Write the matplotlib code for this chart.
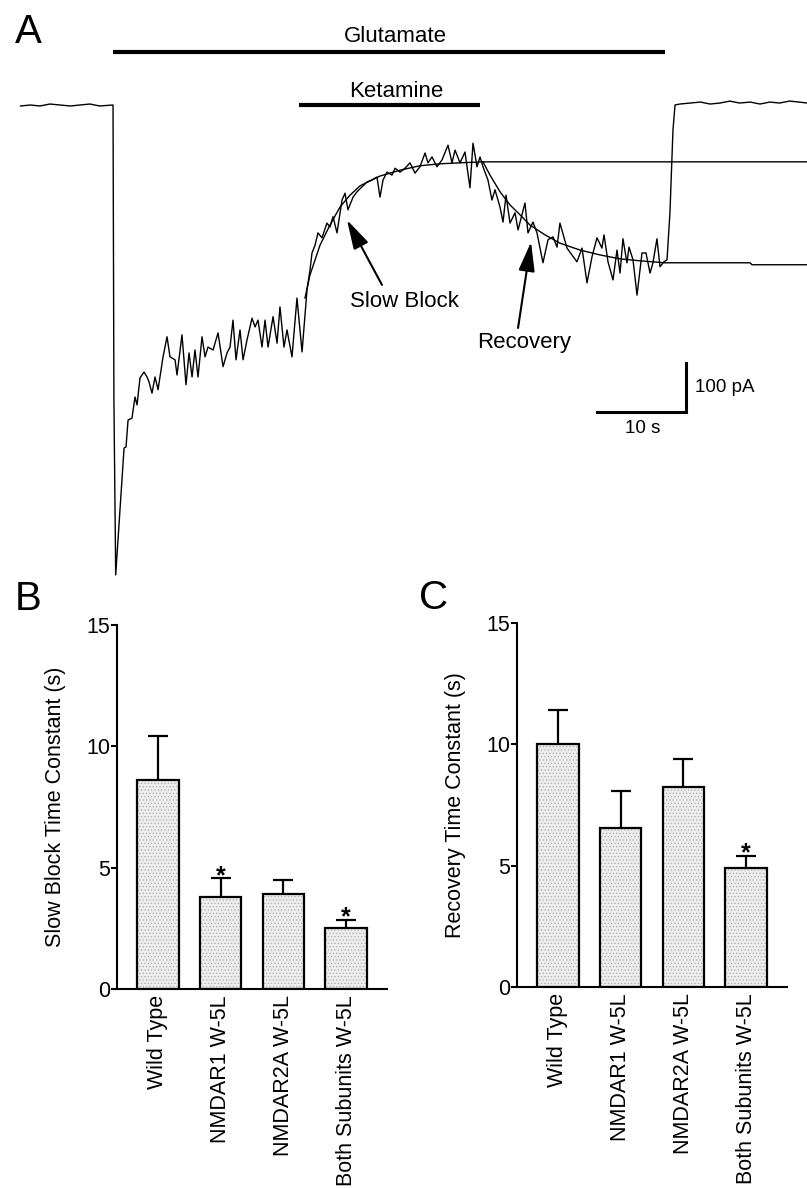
import numpy as np
import matplotlib
matplotlib.use('Agg')
import matplotlib.pyplot as plt

plt.rcParams['font.family'] = ['Liberation Sans', 'DejaVu Sans']

# ---- panel A: whole-cell current trace (time in s from glutamate onset, current in pA)
trace_t = [-10.4, -9.3, -8.2, -7.1, -6.0, -4.8, -3.7, -2.6, -1.5, -0.1,
           0.0, 0.1, 0.3,
           1.24, 1.46, 1.69, 2.13, 2.47, 2.70, 3.03, 3.48, 3.82, 4.04, 4.38, 4.72, 5.06,
           5.62, 6.07, 6.40, 6.97, 7.19, 7.75, 8.20, 8.54, 8.88, 9.21, 9.55, 10.0, 10.34,
           10.67, 11.24, 11.80, 12.36, 12.81, 13.15, 13.48, 13.82, 14.27, 14.61, 15.06,
           15.62, 15.96, 16.29, 16.74, 17.08, 17.42, 17.98, 18.43, 18.76, 19.21, 19.55,
           20.11, 20.67, 21.24, 21.80, 22.13, 22.36, 22.70, 23.03, 23.48, 24.04, 24.38,
           24.72, 25.17, 25.73, 26.07, 26.40, 26.97, 27.42, 27.98, 28.54, 29.10, 29.66,
           30.00, 30.34, 30.79, 31.35, 31.69, 32.25, 32.81, 33.37, 33.93, 34.49, 35.06,
           35.39, 35.84, 36.40, 36.97, 37.64, 38.09, 38.43, 38.99, 39.55, 40.11, 40.45,
           40.90, 41.24, 41.57, 42.13, 42.58, 42.92, 43.48, 43.82, 44.16, 44.61, 45.17,
           45.51, 46.29, 46.63, 47.19, 47.64, 48.31, 48.88, 49.44, 49.89, 50.22, 51.01,
           52.13, 52.70, 53.26, 53.82, 54.38, 54.94, 55.17, 55.62, 56.18, 56.63, 56.97,
           57.30, 57.75, 57.98, 58.43, 58.88, 59.44, 59.89, 60.34, 60.67, 61.12, 61.46,
           61.91, 62.25, 62.58, 62.92, 63.15,
           63.7, 64.8, 66.0, 67.1, 68.2, 69.3, 70.4, 71.6, 72.7, 73.8, 74.9, 76.0, 77.1, 78.0]
trace_pA = [-2, 0, -2, 2, 0, -2, 0, 2, -2, 0,
            0, -602, -959,
            -700, -698, -643, -639, -596, -612, -557, -545, -555, -565, -588, -555, -581,
            -514, -473, -514, -520, -551, -469, -571, -506, -555, -500, -555, -473, -514,
            -494, -500, -465, -534, -506, -494, -439, -520, -459, -520, -479,
            -435, -453, -439, -494, -439, -494, -432, -486, -412, -494, -459,
            -514, -394, -504, -377, -337, -302, -286, -261, -271, -241, -249,
            -228, -261, -194, -180, -214, -188, -177, -167, -157, -153, -147,
            -188, -153, -137, -143, -129, -137, -129, -118, -139, -126, -98,
            -118, -106, -126, -112, -82, -118, -92, -118, -96, -169, -78,
            -126, -106, -126, -153, -194, -173, -208, -239, -184, -241, -220,
            -255, -200, -261, -239, -261, -322, -275, -269, -290, -241, -292,
            -320, -292, -363, -310, -271, -292, -265, -320, -357, -296, -343,
            -273, -322, -290, -316, -388, -302, -302, -343, -322, -273, -330,
            -320, -316, -220, -51, 0,
            2, 4, 6, 2, 4, 8, 4, 6, 2, 6, 4, 8, 6, 4]

# exponential fits drawn over the trace (and their extrapolations)
block_fit_t = [21.57, 22.13, 23.26, 24.38, 25.51, 26.63, 27.75, 30.0, 32.25, 34.49,
               36.74, 38.99, 41.57, 78.0]
block_fit_pA = [-394, -347, -286, -245, -208, -184, -165, -145, -133, -124,
                -120, -118, -116, -116]
recov_fit_t = [41.57, 42.36, 43.48, 44.61, 45.73, 46.85, 48.54, 50.22, 52.47, 54.72,
               56.97, 59.21, 62.02, 71.57, 71.8, 78.0]
recov_fit_pA = [-116, -143, -177, -204, -224, -245, -265, -282, -296, -306,
                -314, -318, -322, -322, -326, -326]

glutamate_on, glutamate_off = 0.0, 62.0
ketamine_on, ketamine_off = 20.9, 41.2

# ---- panels B and C
categories = ['Wild Type', 'NMDAR1 W-5L', 'NMDAR2A W-5L', 'Both Subunits W-5L']
block_tau = [8.6, 3.8, 3.9, 2.5]
block_sem = [1.8, 0.75, 0.6, 0.35]
block_sig = [False, True, False, True]
recov_tau = [10.0, 6.55, 8.25, 4.9]
recov_sem = [1.4, 1.5, 1.15, 0.5]
recov_sig = [False, False, False, True]

W, H = 807, 1188
fig = plt.figure(figsize=(W / 100, H / 100), dpi=100)


def px_axes(x0, y0, x1, y1):
    return fig.add_axes([x0 / W, 1 - y1 / H, (x1 - x0) / W, (y1 - y0) / H])


# ---------------- A
axA = px_axes(0, 0, W, 580)
axA.set_xlim(-12.70, 77.98)
axA.set_ylim(-969.4, 214.3)
axA.axis('off')

axA.plot(trace_t, trace_pA, color='k', lw=1.0)
axA.plot(block_fit_t, block_fit_pA, color='k', lw=1.0)
axA.plot(recov_fit_t, recov_fit_pA, color='k', lw=1.0)

axA.plot([glutamate_on, glutamate_off], [108, 108], color='k', lw=3, solid_capstyle='butt')
axA.plot([ketamine_on, ketamine_off], [0, 0], color='k', lw=3, solid_capstyle='butt')
axA.text((glutamate_on + glutamate_off) / 2 + 0.7, 128.6, 'Glutamate', ha='center',
         va='baseline', fontsize=16)
axA.text((ketamine_on + ketamine_off) / 2 + 0.8, 16.3, 'Ketamine', ha='center',
         va='baseline', fontsize=16)

arrow = dict(arrowstyle='-|>,head_length=0.9,head_width=0.25', color='k', lw=1.5,
             mutation_scale=20, shrinkA=0, shrinkB=0)
axA.annotate('', xy=(26.29, -234.7), xytext=(30.22, -367), arrowprops=arrow)
axA.text(32.8, -412, 'Slow Block', ha='center', va='baseline', fontsize=16)
axA.annotate('', xy=(46.97, -279.6), xytext=(45.51, -455), arrowprops=arrow)
axA.text(46.24, -496, 'Recovery', ha='center', va='baseline', fontsize=16)

# scale bar: 10 s x 100 pA
axA.plot([54.4, 64.4, 64.4], [-626.5, -626.5, -526.5], color='k', lw=2.2,
         solid_joinstyle='miter')
axA.text(65.39, -585.7, '100 pA', ha='left', va='baseline', fontsize=13.5)
axA.text(59.55, -669.4, '10 s', ha='center', va='baseline', fontsize=13.5)

fig.text(15 / W, 1 - 43 / H, 'A', fontsize=29, va='baseline', ha='left')
fig.text(15 / W, 1 - 610 / H, 'B', fontsize=29, va='baseline', ha='left')
fig.text(419 / W, 1 - 609 / H, 'C', fontsize=29, va='baseline', ha='left')


# ---------------- B, C
def bar_panel(ax, vals, sems, sig, ylabel):
    x = np.arange(len(categories))
    vals = np.array(vals)
    tops = vals + np.array(sems)
    ax.bar(x, vals, width=0.66, color='#ececec', edgecolor='#a5a5a5', hatch='.....',
           linewidth=0)
    ax.bar(x, vals, width=0.66, fill=False, edgecolor='k', linewidth=1.6)
    ax.vlines(x, vals, tops, color='k', lw=1.6)
    ax.hlines(tops, x - 0.16, x + 0.16, color='k', lw=1.6)
    for xi, t, s in zip(x, tops, sig):
        if s:
            ax.text(xi, t - 0.18, '*', ha='center', va='baseline', fontsize=18,
                    fontweight='bold')
    ax.set_xlim(-0.654, 3.654)
    ax.set_ylim(0, 15)
    ax.set_yticks([0, 5, 10, 15])
    ax.set_xticks(x)
    ax.set_xticklabels(categories, rotation=90, fontsize=15.5)
    for side in ['top', 'right']:
        ax.spines[side].set_visible(False)
    for side in ['left', 'bottom']:
        ax.spines[side].set_linewidth(1.5)
    ax.tick_params(axis='y', length=4, width=1.5, labelsize=15.5, pad=1)
    ax.tick_params(axis='x', length=0, pad=4.3)
    ax.text(-0.226, 0.5, ylabel, transform=ax.transAxes, rotation=90, ha='center',
            va='center', fontsize=15.5)


plt.rcParams['hatch.linewidth'] = 0.4
axB = px_axes(117, 624.6, 387, 989)
bar_panel(axB, block_tau, block_sem, block_sig, 'Slow Block Time Constant (s)')
axC = px_axes(517, 622.7, 787, 987)
bar_panel(axC, recov_tau, recov_sem, recov_sig, 'Recovery Time Constant (s)')

fig.savefig('out.png', dpi=100)
